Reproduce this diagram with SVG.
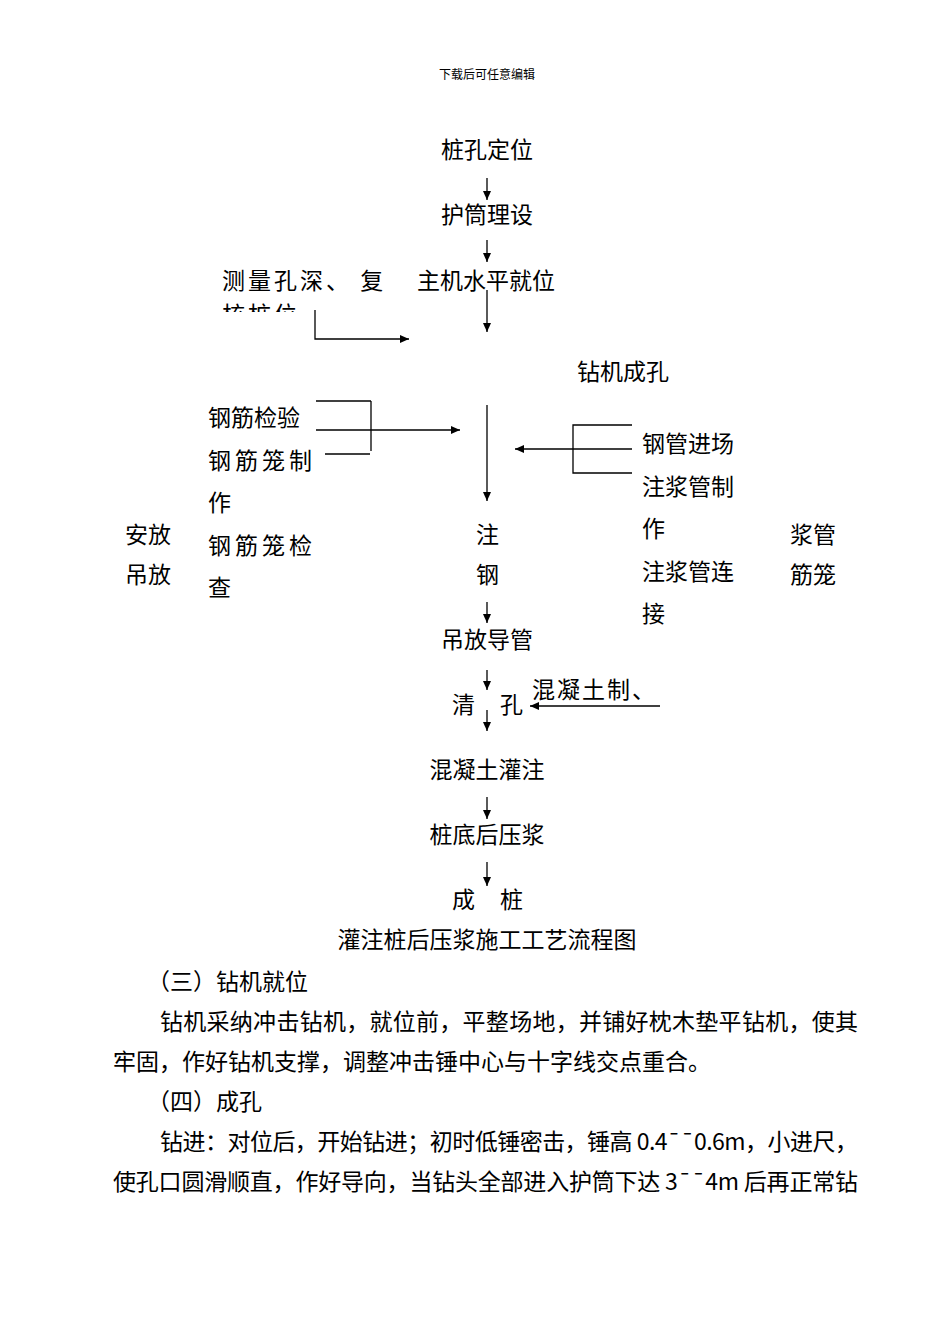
<svg xmlns="http://www.w3.org/2000/svg" width="950" height="1344" viewBox="0 0 950 1344">
<style>
text{font-family:"Noto Sans CJK SC","Liberation Sans",sans-serif;font-size:23px;fill:#000}
.c{text-anchor:middle}
.s{font-family:"Noto Sans CJK SC",sans-serif;font-size:12px}
line,polyline{stroke:#000;stroke-width:1.3;fill:none}
.a{marker-end:url(#ah)}
</style>
<defs>
<marker id="ah" markerWidth="10" markerHeight="10" refX="9" refY="5" orient="auto" markerUnits="userSpaceOnUse"><path d="M0,1 L9,5 L0,9Z" fill="#000"/></marker>
<clipPath id="cp"><rect x="200" y="290" width="200" height="22"/></clipPath>
</defs>
<rect width="950" height="1344" fill="#fff"/>
<text class="c s" x="487" y="79">下载后可任意编辑</text>
<g id="connectors">
<line class="a" x1="487" y1="178" x2="487" y2="200"/>
<line class="a" x1="487" y1="240" x2="487" y2="262"/>
<line class="a" x1="487" y1="290" x2="487" y2="332"/>
<polyline class="a" points="315,310 315,339 409,339"/>
<line x1="316" y1="401" x2="371" y2="401"/>
<line x1="325" y1="454" x2="370" y2="454"/>
<line x1="371" y1="401" x2="371" y2="451"/>
<line class="a" x1="316" y1="430" x2="460" y2="430"/>
<line class="a" x1="487" y1="405" x2="487" y2="501"/>
<polyline points="632,425 573,425 573,473 632,473"/>
<line class="a" x1="632" y1="449" x2="515" y2="449"/>
<line class="a" x1="487" y1="602" x2="487" y2="623"/>
<line class="a" x1="487" y1="670" x2="487" y2="690"/>
<line class="a" x1="660" y1="706" x2="530" y2="706"/>
<line class="a" x1="487" y1="710" x2="487" y2="731"/>
<line class="a" x1="487" y1="797" x2="487" y2="819"/>
<line class="a" x1="487" y1="862" x2="487" y2="886"/>
</g>
<g id="n1"><text class="c" x="487" y="158">桩孔定位</text></g>
<g id="n2"><text class="c" x="487" y="223">护筒理设</text></g>
<g id="n3"><text x="222" y="289" letter-spacing="3">测量孔深、  复</text><g clip-path="url(#cp)"><text x="222" y="323" letter-spacing="3">核桩位</text></g></g>
<g id="n4"><text x="417" y="289">主机水平就位</text></g>
<g id="n5"><text x="577" y="380">钻机成孔</text></g>
<g id="n6"><text x="208" y="426">钢筋检验</text><text x="208" y="469" letter-spacing="4">钢筋笼制</text><text x="208" y="511">作</text><text x="208" y="554" letter-spacing="4">钢筋笼检</text><text x="208" y="596">查</text></g>
<g id="n7"><text x="125" y="543">安放</text><text x="125" y="583">吊放</text></g>
<g id="n8"><text x="476" y="543">注</text><text x="476" y="583">钢</text></g>
<g id="n9"><text x="642" y="452">钢管进场</text><text x="642" y="495">注浆管制</text><text x="642" y="537">作</text><text x="642" y="580">注浆管连</text><text x="642" y="622">接</text></g>
<g id="n10"><text x="790" y="543">浆管</text><text x="790" y="583">筋笼</text></g>
<g id="n11"><text class="c" x="487" y="648">吊放导管</text></g>
<g id="n12"><text x="452" y="713">清</text><text x="500" y="713">孔</text></g>
<g id="n13"><text x="532" y="698" letter-spacing="2">混凝土制、</text></g>
<g id="n14"><text class="c" x="487" y="778">混凝土灌注</text></g>
<g id="n15"><text class="c" x="487" y="843">桩底后压浆</text></g>
<g id="n16"><text x="452" y="908">成</text><text x="500" y="908">桩</text></g>
<text class="c" x="487" y="948">灌注桩后压浆施工工艺流程图</text>
<text x="147" y="990">（三）钻机就位</text>
<text x="160" y="1030" textLength="698">钻机采纳冲击钻机，就位前，平整场地，并铺好枕木垫平钻机，使其</text>
<text x="113" y="1070">牢固，作好钻机支撑，调整冲击锤中心与十字线交点重合。</text>
<text x="147" y="1110">（四）成孔</text>
<text x="160" y="1150" textLength="698">钻进：对位后，开始钻进；初时低锤密击，锤高 0.4¯¯0.6m，小进尺，</text>
<text x="113" y="1190" textLength="745">使孔口圆滑顺直，作好导向，当钻头全部进入护筒下达 3¯¯4m 后再正常钻</text>
</svg>
